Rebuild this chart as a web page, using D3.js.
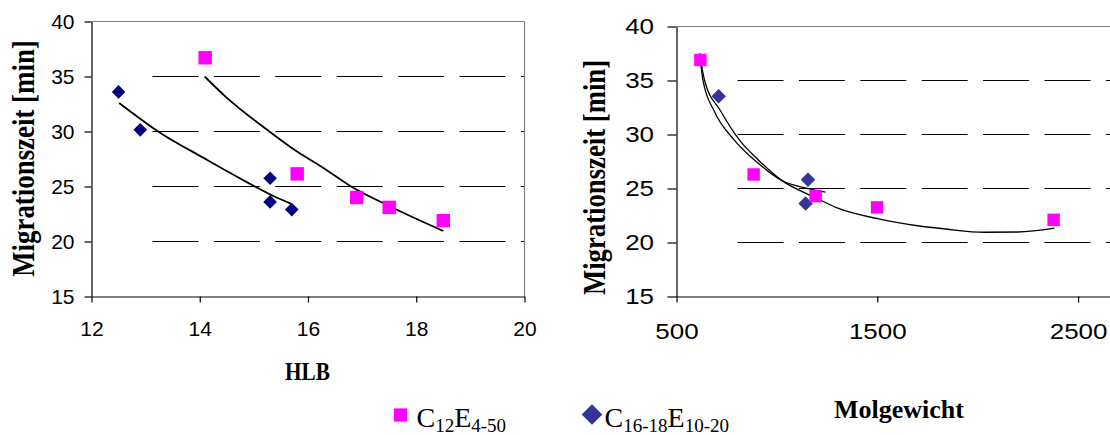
<!DOCTYPE html>
<html>
<head>
<meta charset="utf-8">
<script src="https://cdn.jsdelivr.net/npm/d3@7"></script>
<style>
  body { margin: 0; background: #fff; }
  svg { display: block; }
</style>
</head>
<body>
<svg id="chart" width="1110" height="435"></svg>
<script>
// ---- Left panel: migration time vs. HLB ----
const hlbC12 = [14.1, 15.8, 16.9, 17.5, 18.5];
const timeC12ByHlb = [36.7, 26.15, 24.0, 23.1, 21.9];
const hlbC16 = [12.5, 12.9, 15.3, 15.3, 15.7];
const timeC16ByHlb = [33.6, 30.15, 25.75, 23.6, 22.9];

// trend lines (left panel)
const trendHlbC12X = [14.09, 14.47, 15.26, 15.79, 16.25, 16.78, 17.49, 18.5];
const trendHlbC12Y = [35.0, 33.2, 30.1, 28.2, 26.8, 25.05, 23.25, 20.95];
const trendHlbC16X = [12.51, 13.28, 14.07, 14.87, 15.42, 15.7];
const trendHlbC16Y = [32.6, 29.85, 27.6, 25.4, 24.0, 23.4];

// ---- Right panel: migration time vs. molecular weight ----
const mwC12 = [619, 884, 1193, 1499, 2378];
const timeC12ByMw = [36.9, 26.3, 24.3, 23.25, 22.1];
const mwC16 = [710, 1155, 1143];
const timeC16ByMw = [33.55, 25.8, 23.6];

// trend lines (right panel)
const trendMwC12X = [615, 640, 719, 815, 910, 1024, 1193, 1300, 1502, 1700, 1840, 2032, 2200, 2382];
const trendMwC12Y = [37.5, 35.0, 32.2, 29.45, 27.6, 25.75, 24.15, 23.2, 22.2, 21.55, 21.25, 20.95, 20.97, 21.33];
const trendMwC16X = [615, 632, 687, 790, 900, 1024, 1130, 1242];
const trendMwC16Y = [37.5, 35.0, 32.2, 29.44, 27.45, 25.74, 25.1, 24.66];

// ticks
const timeTicks = [15, 20, 25, 30, 35, 40];
const gridTimes = [20, 25, 30, 35];
const hlbTicks = [12, 14, 16, 18, 20];
const mwTicks = [500, 1500, 2500];

const PINK = "#ff00ff";
const NAVY = "#000080";
const INDIGO = "#333399";
const FRAME = "#808080";

const svg = d3.select("#chart");

const xL = d3.scaleLinear().domain([12, 20]).range([91.5, 524.5]);
const yL = d3.scaleLinear().domain([15, 40]).range([296.5, 21.5]);
const xR = d3.scaleLinear().domain([500, 3000]).range([676.5, 1178.5]);
const yR = d3.scaleLinear().domain([15, 40]).range([296.5, 26.5]);

const zip = (xs, ys) => xs.map((x, i) => [x, ys[i]]);

function panel(cfg) {
  const g = svg.append("g");
  const [x0, x1] = cfg.x.range();
  const [yb, yt] = cfg.y.range();
  const right = Math.min(x1, 1110);

  // dashed gridlines, first period left blank
  g.selectAll("line.grid").data(gridTimes).join("line")
    .attr("x1", x0 + 61).attr("x2", right)
    .attr("y1", d => cfg.y(d)).attr("y2", d => cfg.y(d))
    .attr("stroke", "#000").attr("stroke-width", 1)
    .attr("stroke-dasharray", "46,15.4");

  // grey frame top / right
  g.append("line").attr("x1", x0).attr("x2", right).attr("y1", yt).attr("y2", yt)
    .attr("stroke", FRAME).attr("stroke-width", 1.2);
  if (x1 <= 1110) {
    g.append("line").attr("x1", x1).attr("x2", x1).attr("y1", yt).attr("y2", yb)
      .attr("stroke", FRAME).attr("stroke-width", 1.2);
  }

  // y axis
  const ya = g.append("g").attr("transform", `translate(${x0},0)`)
    .call(d3.axisLeft(cfg.y).tickValues(timeTicks).tickSize(cfg.yTick)
      .tickSizeOuter(0).tickPadding(cfg.yPad).tickFormat(d3.format("d")));
  // x axis
  const xa = g.append("g").attr("transform", `translate(0,${yb})`)
    .call(d3.axisBottom(cfg.x).tickValues(cfg.xTicks).tickSize(6)
      .tickSizeOuter(0).tickPadding(cfg.xPad).tickFormat(d3.format("d")));

  [ya, xa].forEach(a => {
    a.select(".domain").attr("stroke", "#000").attr("stroke-width", 1.2);
    a.selectAll(".tick line").attr("stroke", "#000").attr("stroke-width", 1.2);
    a.selectAll(".tick text")
      .attr("fill", "#000")
      .style("font-family", "'Liberation Sans', Arial, sans-serif")
      .style("font-size", cfg.tickFont + "px");
  });
  if (cfg.stretch !== 1) {
    ya.selectAll(".tick text").each(function () {
      const t = d3.select(this);
      t.attr("x", +t.attr("x") / cfg.stretch).attr("transform", `scale(${cfg.stretch},1)`);
    });
    xa.selectAll(".tick text").attr("transform", `scale(${cfg.stretch},1)`);
  }

  // trend lines
  const line = d3.line().x(d => cfg.x(d[0])).y(d => cfg.y(d[1])).curve(d3.curveMonotoneX);
  cfg.trends.forEach(t => {
    g.append("path").attr("d", line(t)).attr("fill", "none")
      .attr("stroke", "#000").attr("stroke-width", cfg.trendWidth);
  });

  // diamonds
  g.selectAll("path.dia").data(cfg.diamonds).join("path")
    .attr("d", d3.symbol(d3.symbolSquare, cfg.diaArea))
    .attr("transform", d => `translate(${cfg.x(d[0])},${cfg.y(d[1])}) rotate(45)`)
    .attr("fill", cfg.diaColor);
  // squares
  g.selectAll("path.sq").data(cfg.squares).join("path")
    .attr("d", d3.symbol(d3.symbolSquare, cfg.sqArea))
    .attr("transform", d => `translate(${cfg.x(d[0])},${cfg.y(d[1])})`)
    .attr("fill", PINK);
}

panel({
  x: xL, y: yL, xTicks: hlbTicks, yTick: 7, yPad: 10, xPad: 19, tickFont: 21, stretch: 1,
  trends: [zip(trendHlbC12X, trendHlbC12Y), zip(trendHlbC16X, trendHlbC16Y)], trendWidth: 1.8,
  diamonds: zip(hlbC16, timeC16ByHlb), diaColor: NAVY, diaArea: 92,
  squares: zip(hlbC12, timeC12ByHlb), sqArea: 180
});

panel({
  x: xR, y: yR, xTicks: mwTicks, yTick: 9, yPad: 13.5, xPad: 21, tickFont: 22, stretch: 1.18,
  trends: [zip(trendMwC12X, trendMwC12Y), zip(trendMwC16X, trendMwC16Y)], trendWidth: 1.3,
  diamonds: zip(mwC16, timeC16ByMw), diaColor: INDIGO, diaArea: 105,
  squares: zip(mwC12, timeC12ByMw), sqArea: 155
});

// axis titles
const titleFont = "'Liberation Serif', 'Times New Roman', serif";
function title(text, x, y, size, sx, rotate) {
  svg.append("text")
    .attr("transform", `translate(${x},${y})${rotate ? " rotate(-90)" : ""} scale(${sx},1)`)
    .attr("text-anchor", "middle")
    .style("font-family", titleFont).style("font-weight", "bold")
    .style("font-size", size + "px").attr("fill", "#000")
    .attr("xml:space", "preserve")
    .text(text);
}
title("Migrationszeit [min]", 34, 158.5, 32, 0.84, true);
title("Migrationszeit [min]", 605, 177.5, 32, 0.835, true);
title("HLB", 307.5, 380, 25, 0.85, false);
title("Molgewicht", 899, 418, 26, 1.0, false);

// legend
const legend = [
  { kind: "square", color: PINK, cx: 400.5, base: "C", sub1: "12", sub2: "4-50", tx: 416.5 },
  { kind: "diamond", color: INDIGO, cx: 592, base: "C", sub1: "16-18", sub2: "10-20", tx: 604.5 }
];
const lg = svg.append("g");
const legendBase = 426.5;
const subShift = 5.5;
legend.forEach(d => {
  if (d.kind === "square") {
    lg.append("path").attr("d", d3.symbol(d3.symbolSquare, 175))
      .attr("transform", `translate(${d.cx},415)`).attr("fill", d.color);
  } else {
    lg.append("path").attr("d", d3.symbol(d3.symbolSquare, 212))
      .attr("transform", `translate(${d.cx},414.5) rotate(45)`).attr("fill", d.color);
  }
  const t = lg.append("text").attr("x", d.tx).attr("y", legendBase)
    .style("font-family", titleFont).style("font-size", "28px").attr("fill", "#000");
  t.append("tspan").text(d.base);
  t.append("tspan").attr("dy", subShift).style("font-size", "19px").text(d.sub1);
  t.append("tspan").attr("dy", -subShift).text("E");
  t.append("tspan").attr("dy", subShift).style("font-size", "19px").text(d.sub2);
});
</script>
</body>
</html>
